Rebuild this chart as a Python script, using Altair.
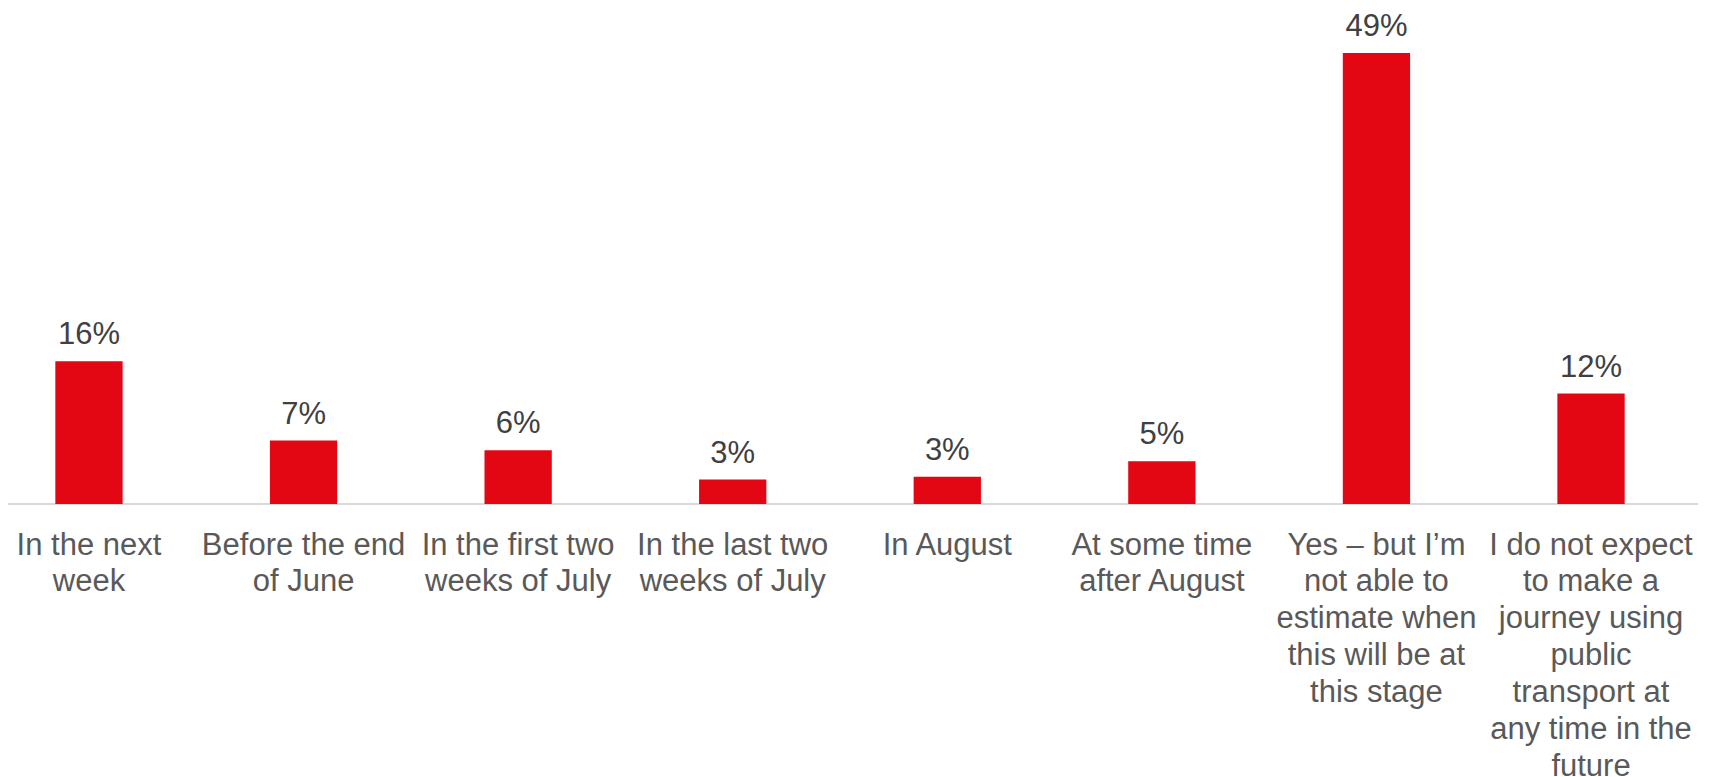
import altair as alt
import pandas as pd

categories = [
    "In the next\nweek",
    "Before the end\nof June",
    "In the first two\nweeks of July",
    "In the last two\nweeks of July",
    "In August",
    "At some time\nafter August",
    "Yes \u2013 but I\u2019m\nnot able to\nestimate when\nthis will be at\nthis stage",
    "I do not expect\nto make a\njourney using\npublic\ntransport at\nany time in the\nfuture",
]
values = [15.5, 6.9, 5.85, 2.65, 2.95, 4.65, 49.0, 12.0]
value_labels = ["16%", "7%", "6%", "3%", "3%", "5%", "49%", "12%"]

df = pd.DataFrame({"cat": categories, "val": values, "lab": value_labels})

FONT = "Liberation Sans"
RED = "#E30613"

x_enc = alt.X(
    "cat:N",
    sort=categories,
    scale=alt.Scale(paddingInner=0.6864, paddingOuter=0.2206, round=False),
    axis=alt.Axis(
        title=None,
        domain=False,
        ticks=False,
        tickSize=0,
        labelAngle=0,
        labelPadding=26,
        labelFont=FONT,
        labelFontSize=31,
        labelColor="#595959",
        labelLineHeight=36.9,
        labelLimit=400,
        labelOverlap=False,
        labelFlush=False,
        labelExpr="split(datum.label, '\\n')",
    ),
)
y_enc = alt.Y("val:Q", scale=alt.Scale(domain=[0, 53.9], nice=False, zero=True), axis=None)

base = alt.Chart(df)

rule = base.transform_calculate(zero="0").mark_rule(color="#D9D9D9", strokeWidth=2).encode(
    y=alt.Y("zero:Q", scale=alt.Scale(domain=[0, 53.9], nice=False), axis=None),
    x=alt.value(0),
    x2=alt.value(1690),
)

bars = base.mark_bar(color=RED).encode(x=x_enc, y=y_enc)

labels = base.mark_text(
    font=FONT, fontSize=31, color="#404040", baseline="alphabetic", dy=-17
).encode(x=x_enc, y=y_enc, text="lab:N")

chart = (
    alt.layer(rule, bars, labels)
    .properties(
        width=1664,
        height=496,
        autosize=alt.AutoSizeParams(type="none"),
        padding={"left": 0, "top": 0, "right": 26, "bottom": 273},
    )
    .configure_view(stroke=None)
    .configure_axis(grid=False)
)

chart.save("out.html", embed_options={"renderer": "svg", "actions": False})
